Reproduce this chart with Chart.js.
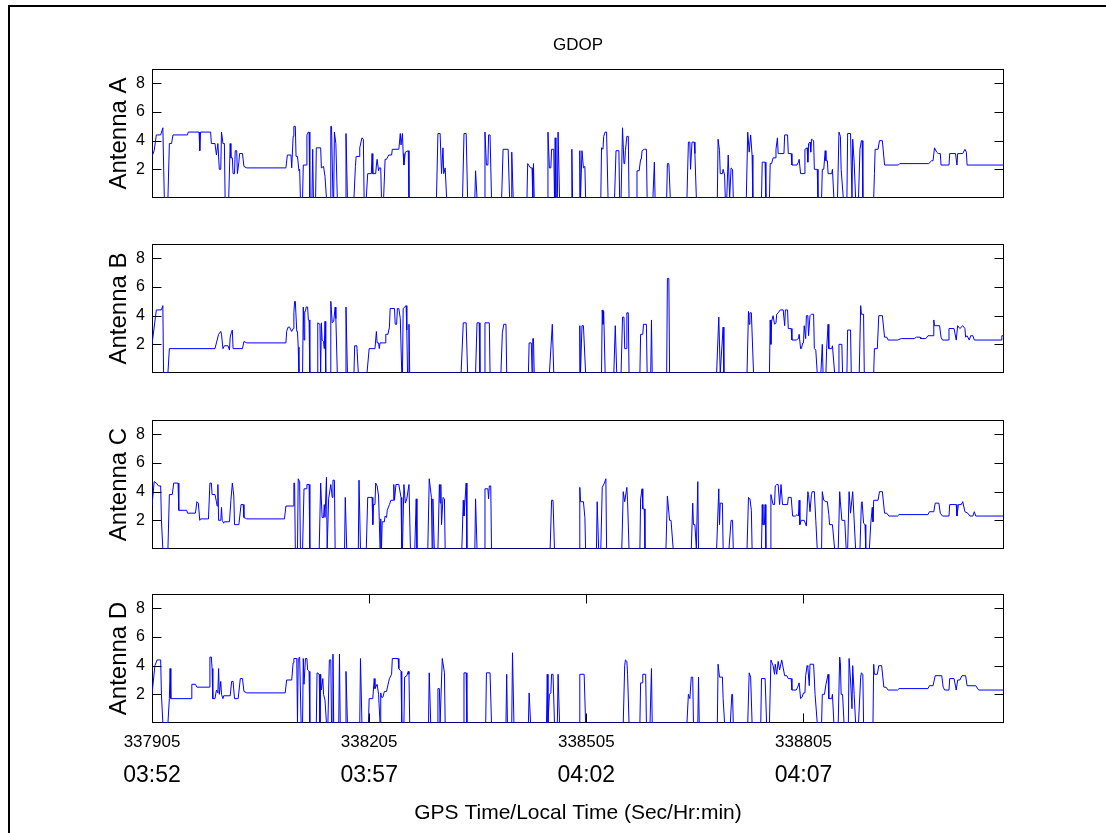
<!DOCTYPE html>
<html>
<head>
<meta charset="utf-8">
<script src="https://cdn.jsdelivr.net/npm/chart.js@4.4.1/dist/chart.umd.min.js"></script>
<style>
  html, body { margin: 0; padding: 0; background: #fff; }
  #fig { position: relative; width: 1106px; height: 833px; overflow: hidden; background: #fff; }
  #frame { position: absolute; left: 8px; top: 5px; width: 1200px; height: 900px;
           border-left: 2px solid #000; border-top: 2px solid #000; }
  canvas { position: absolute; left: 0; }
</style>
</head>
<body>
<div id="fig">
  <div id="frame"></div>
  <canvas id="antA" width="1106" height="218" style="top:0px"></canvas>
  <canvas id="antB" width="1106" height="169" style="top:224px"></canvas>
  <canvas id="antC" width="1106" height="169" style="top:400px"></canvas>
  <canvas id="antD" width="1106" height="259" style="top:574px"></canvas>
</div>
<script>
// GPS seconds of week at the left edge of the plots
var T0 = 337905;
var T_END = 339082;
var xTicks = [337905, 338205, 338505, 338805];
var localTimes = ['03:52', '03:57', '04:02', '04:07'];
var yTicks = [2, 4, 6, 8];
var antennaNames = ['Antenna A', 'Antenna B', 'Antenna C', 'Antenna D'];
var chartTitle = 'GDOP';
var xTitle = 'GPS Time/Local Time (Sec/Hr:min)';

// [seconds after T0, GDOP]  (0 = no solution)
var gdopA = [[0,2.9],[3,3.3],[6,4.4],[12,4.4],[15,4.9],[17,0],[22,0],[24,3.8],[27,3.8],[29,4.4],[49,4.4],[50,4.6],[65,4.6],[66,3.3],[67,4.6],[81,4.6],[82,3.8],[87,3.8],[89,3.0],[91,3.8],[93,2.0],[95,2.0],[96,4.6],[98,3.8],[100,3.8],[101,0],[106,0],[108,3.8],[109,2.8],[111,2.8],[112,1.7],[114,1.7],[115,3.3],[117,3.3],[118,1.7],[120,2.5],[121,3.1],[125,3.1],[127,2.2],[131,2.1],[185,2.1],[187,3.0],[192,3.0],[193,2.1],[195,4.3],[196,5.0],[198,5.0],[199,2.9],[201,2.9],[203,1.9],[204,2.0],[205,0],[208,0],[209,2.3],[213,2.3],[214,4.4],[216,4.6],[217,4.6],[218,0],[221,0],[222,3.4],[223,0],[226,0],[227,3.5],[233,3.5],[234,2.1],[237,2.2],[239,1.5],[241,0],[246,0],[247,5.0],[248,5.0],[250,0],[251,0],[252,4.6],[254,3.8],[256,0],[267,0],[268,4.5],[270,0],[279,0],[281,2.2],[282,2.9],[286,2.9],[287,3.5],[290,4.2],[292,4.1],[293,0],[296,0],[298,1.7],[303,1.7],[304,3.1],[305,1.7],[309,1.7],[310,2.3],[311,2.7],[313,1.9],[314,2.1],[316,2.1],[317,0],[320,0],[322,2.7],[324,2.7],[327,3.0],[331,3.0],[332,3.4],[341,3.4],[343,4.5],[344,3.7],[346,4.5],[347,3.1],[348,2.3],[350,3.2],[354,3.3],[355,0],[393,0],[395,4.5],[398,4.5],[400,1.7],[402,3.5],[403,1.7],[405,2.1],[407,0],[429,0],[431,4.5],[434,4.5],[436,0],[446,0],[447,1.9],[449,0],[459,0],[460,4.6],[462,2.3],[464,2.3],[465,4.4],[467,4.4],[469,0],[483,0],[485,3.4],[492,3.4],[494,0],[496,0],[497,3.2],[499,0],[518,0],[519,2.4],[523,2.1],[525,2.1],[526,0],[527,2.4],[528,0],[546,0],[547,4.6],[549,2.1],[551,2.1],[552,3.4],[555,3.4],[556,0],[557,4.2],[558,0],[560,0],[561,4.6],[563,0],[579,0],[580,3.4],[581,0],[590,0],[591,3.3],[592,0],[594,3.3],[596,2.1],[598,2.2],[599,0],[620,0],[621,3.5],[623,3.4],[624,4.3],[626,4.6],[628,4.6],[630,0],[639,0],[641,3.3],[645,3.3],[646,0],[648,0],[650,4.9],[652,2.4],[653,2.4],[654,3.3],[656,4.3],[658,4.3],[659,0],[669,0],[670,1.9],[673,1.9],[675,2.7],[676,2.7],[677,3.3],[680,3.4],[683,3.4],[684,0],[692,0],[694,2.5],[695,0],[711,0],[712,2.4],[714,2.4],[716,0],[739,0],[741,3.9],[743,3.9],[744,2.0],[746,3.9],[749,3.9],[750,3.1],[752,0],[781,0],[782,4.1],[784,3.3],[785,1.7],[788,1.7],[789,2.0],[791,1.6],[792,0],[794,0],[796,3.0],[798,0],[800,2.1],[802,2.0],[803,0],[821,0],[823,4.6],[825,3.2],[827,4.4],[829,3.0],[830,0],[842,0],[843,2.5],[847,2.5],[848,0],[853,0],[854,2.4],[856,2.4],[858,2.8],[861,2.8],[862,3.4],[864,4.2],[865,3.1],[873,3.1],[874,4.4],[878,4.4],[879,3.1],[883,3.1],[884,2.3],[891,2.3],[893,2.5],[894,2.7],[896,1.7],[901,1.7],[902,3.4],[905,3.5],[906,2.5],[907,3.8],[909,3.9],[910,3.2],[911,4.1],[914,4.0],[915,2.0],[919,2.0],[920,0],[925,0],[926,2.0],[928,2.0],[930,3.3],[931,2.6],[933,2.6],[934,1.7],[939,1.7],[940,2.0],[942,0],[947,0],[949,4.6],[951,4.3],[952,2.0],[953,2.0],[955,0],[960,0],[961,4.5],[965,4.5],[967,0],[968,4.1],[970,2.5],[972,0],[976,0],[978,3.4],[980,4.0],[981,4.0],[982,0],[997,0],[998,1.7],[999,3.4],[1003,3.4],[1005,4.0],[1009,4.0],[1012,2.3],[1031,2.3],[1033,2.4],[1073,2.4],[1077,2.6],[1079,2.6],[1081,3.5],[1084,3.2],[1086,3.1],[1089,3.1],[1090,2.3],[1101,2.3],[1102,3.1],[1110,3.1],[1112,2.3],[1113,3.1],[1120,3.1],[1123,3.4],[1125,3.2],[1126,2.3],[1177,2.3]];

var gdopB = [[0,2.0],[6,4.4],[13,4.4],[15,4.7],[16,0],[22,0],[24,1.7],[87,1.7],[89,2.1],[92,2.7],[95,2.9],[96,2.7],[98,1.7],[100,1.9],[105,1.9],[107,1.6],[108,2.5],[110,2.9],[111,3.0],[112,1.7],[125,1.7],[127,2.2],[131,2.1],[185,2.1],[186,2.9],[188,3.2],[190,3.2],[193,2.9],[195,3.1],[196,4.2],[197,5.0],[198,5.0],[200,2.9],[201,2.9],[202,1.8],[203,0],[208,0],[209,4.6],[210,2.3],[211,4.3],[212,4.3],[213,4.6],[215,4.6],[216,3.7],[217,3.7],[218,0],[228,0],[229,3.5],[232,3.4],[233,0],[234,3.5],[235,2.3],[237,2.2],[238,1.7],[239,3.6],[240,0],[246,0],[247,5.0],[249,3.5],[251,3.6],[253,4.6],[254,3.8],[256,0],[267,0],[268,4.6],[270,0],[279,0],[280,1.9],[283,1.9],[285,0],[297,0],[300,1.7],[308,1.7],[310,2.9],[311,2.1],[313,2.1],[314,1.7],[315,2.1],[322,2.1],[323,2.7],[326,2.7],[328,3.2],[329,4.5],[335,4.5],[336,3.4],[338,3.4],[339,4.5],[341,4.5],[343,3.8],[345,0],[346,0],[347,4.5],[351,4.7],[352,3.0],[353,0],[354,0],[355,3.4],[356,0],[427,0],[430,3.5],[434,3.5],[436,0],[447,0],[449,3.5],[452,3.5],[453,0],[459,0],[460,3.5],[466,3.5],[467,0],[482,0],[484,2.8],[486,3.4],[489,3.4],[490,0],[520,0],[521,2.1],[524,2.1],[525,0],[526,2.4],[527,2.4],[528,0],[549,0],[553,3.4],[555,0],[590,0],[591,3.3],[592,0],[594,3.3],[596,3.3],[599,0],[621,0],[622,4.4],[623,3.4],[624,4.3],[626,0],[638,0],[640,3.3],[642,0],[648,0],[650,3.9],[652,3.9],[653,1.7],[655,1.7],[656,4.2],[658,4.2],[659,0],[674,0],[675,2.7],[678,2.7],[679,3.4],[683,3.4],[684,0],[689,0],[690,3.7],[691,0],[711,0],[712,6.6],[714,6.6],[715,0],[780,0],[783,3.9],[785,0],[786,0],[789,3.2],[790,0],[822,0],[824,4.3],[825,3.4],[826,4.2],[828,4.2],[831,0],[853,0],[854,3.7],[855,2.0],[856,3.6],[858,4.0],[860,3.4],[862,3.5],[863,4.1],[865,4.2],[868,4.4],[872,4.4],[874,3.3],[875,4.4],[878,4.4],[879,3.1],[883,3.1],[884,2.3],[890,2.3],[893,2.4],[894,2.7],[895,2.7],[896,1.7],[897,1.7],[899,2.1],[900,2.1],[901,3.3],[903,2.4],[904,4.0],[906,4.0],[907,2.6],[909,4.0],[911,4.1],[914,4.1],[915,1.7],[917,1.6],[919,0],[924,0],[926,2.0],[927,0],[931,0],[932,1.7],[934,3.4],[935,1.7],[939,1.7],[940,1.9],[943,0],[948,0],[949,2.0],[953,2.0],[954,0],[960,0],[961,3.0],[965,3.0],[966,0],[977,0],[979,4.7],[980,4.1],[983,4.1],[984,0],[997,0],[998,1.7],[1002,1.7],[1004,4.0],[1009,4.0],[1012,2.5],[1015,2.5],[1017,2.3],[1030,2.3],[1035,2.4],[1053,2.4],[1056,2.5],[1061,2.5],[1062,2.4],[1069,2.4],[1072,2.6],[1079,2.6],[1080,3.7],[1081,3.3],[1088,3.3],[1090,2.5],[1092,2.3],[1100,2.3],[1101,3.1],[1108,3.1],[1111,2.3],[1113,3.3],[1116,3.1],[1120,3.3],[1123,3.1],[1124,2.5],[1126,2.6],[1129,2.3],[1131,2.6],[1134,2.6],[1136,2.3],[1173,2.3],[1174,2.6],[1177,2.6]];

var gdopC = [[0,3.0],[3,4.7],[6,4.6],[9,4.4],[12,4.4],[13,2.0],[15,0],[22,0],[24,3.8],[28,3.8],[30,4.6],[36,4.6],[37,2.7],[48,2.7],[49,2.5],[60,2.5],[62,3.3],[64,3.2],[66,2.0],[67,2.1],[78,2.1],[80,4.6],[82,4.6],[83,3.8],[87,3.8],[89,3.3],[90,3.0],[91,4.5],[92,2.0],[95,2.0],[96,2.9],[97,2.0],[99,1.8],[100,1.9],[107,1.9],[109,3.4],[111,4.6],[113,3.7],[114,1.7],[120,1.7],[123,3.1],[126,3.1],[127,2.2],[131,2.1],[183,2.1],[185,3.0],[195,3.0],[196,4.6],[197,4.6],[198,0],[201,0],[202,4.9],[204,4.7],[205,0],[208,0],[210,4.2],[213,4.2],[214,4.5],[217,4.5],[218,0],[231,0],[233,4.6],[235,2.2],[237,2.2],[238,3.1],[239,2.2],[241,5.0],[242,0],[243,0],[244,3.5],[247,4.5],[249,3.6],[250,4.8],[252,4.8],[253,0],[266,0],[267,3.6],[269,0],[285,0],[286,4.8],[288,0],[296,0],[298,3.6],[304,3.6],[305,1.7],[306,3.1],[308,3.1],[309,4.6],[311,4.4],[313,3.7],[314,2.0],[315,0],[316,2.1],[317,0],[318,1.9],[321,1.9],[322,2.3],[324,2.2],[325,2.7],[328,3.1],[330,3.4],[333,3.4],[334,4.5],[335,3.4],[337,4.5],[341,4.5],[344,3.6],[345,0],[346,0],[348,4.5],[350,3.2],[352,3.5],[355,4.5],[357,0],[363,0],[365,3.5],[366,0],[381,0],[383,4.9],[386,3.6],[387,0],[388,3.5],[390,0],[395,0],[397,4.5],[398,3.2],[399,4.5],[400,1.7],[402,3.6],[404,3.5],[405,0],[428,0],[430,3.4],[431,2.3],[434,4.6],[435,0],[446,0],[447,3.5],[449,0],[459,0],[460,4.2],[464,4.2],[465,3.5],[466,4.4],[468,4.4],[469,0],[550,0],[552,3.4],[554,3.4],[556,0],[590,0],[591,4.3],[592,3.3],[596,3.3],[598,2.2],[599,0],[614,0],[615,3.3],[617,0],[620,0],[622,4.3],[623,4.3],[625,4.6],[627,4.9],[628,0],[649,0],[651,4.0],[653,3.3],[656,4.3],[657,3.3],[659,0],[674,0],[675,3.5],[677,4.2],[678,2.8],[680,2.8],[681,0],[710,0],[712,3.7],[715,2.0],[717,2.0],[720,0],[745,0],[747,3.2],[748,1.7],[750,1.7],[752,0],[754,4.7],[755,0],[780,0],[783,4.2],[784,1.7],[785,3.2],[788,3.2],[789,0],[797,0],[800,2.0],[802,2.0],[803,0],[822,0],[824,3.6],[826,3.5],[828,2.7],[829,0],[842,0],[843,3.1],[844,1.7],[846,1.7],[847,3.1],[848,0],[854,0],[855,3.8],[858,3.1],[860,3.1],[861,4.4],[863,4.5],[865,4.5],[867,3.1],[869,4.5],[871,3.1],[878,3.1],[879,3.6],[883,3.6],[885,2.3],[889,2.3],[891,2.4],[893,2.3],[894,3.4],[895,1.7],[897,2.0],[901,2.0],[904,1.6],[906,4.0],[907,3.8],[909,2.6],[911,3.8],[912,4.0],[915,4.0],[917,2.0],[919,0],[925,0],[926,4.0],[928,3.4],[931,3.3],[933,3.3],[935,2.4],[936,1.7],[940,1.7],[943,0],[948,0],[950,4.0],[951,3.3],[953,2.0],[957,2.0],[959,0],[961,0],[963,4.0],[965,2.5],[968,4.0],[969,3.0],[972,0],[978,0],[980,3.2],[981,3.3],[983,1.8],[985,1.7],[986,0],[991,0],[993,1.8],[995,2.9],[996,1.9],[997,3.4],[1003,3.4],[1005,4.0],[1009,4.0],[1012,2.5],[1015,2.5],[1018,2.3],[1030,2.3],[1032,2.4],[1072,2.4],[1074,2.6],[1080,2.6],[1082,3.2],[1087,3.2],[1089,2.5],[1092,2.3],[1101,2.3],[1102,3.1],[1111,3.1],[1112,2.3],[1114,3.1],[1118,3.1],[1120,3.3],[1123,2.6],[1127,2.5],[1130,2.3],[1134,2.3],[1136,2.6],[1138,2.3],[1177,2.3]];

var gdopD = [[0,2.0],[4,4.0],[7,4.4],[12,4.4],[13,2.0],[15,0],[22,0],[24,1.7],[25,3.8],[26,1.7],[54,1.7],[55,2.7],[60,2.7],[62,2.5],[79,2.5],[80,4.6],[82,4.6],[83,3.8],[84,1.7],[87,1.7],[89,2.3],[91,2.1],[92,3.8],[93,2.0],[95,2.9],[96,2.0],[98,1.7],[99,1.9],[108,1.9],[110,2.9],[112,2.9],[114,1.7],[119,1.7],[122,3.1],[125,3.1],[127,2.2],[131,2.1],[184,2.1],[186,3.0],[193,3.0],[195,4.2],[196,4.5],[200,4.5],[201,0],[202,4.5],[204,4.6],[206,0],[208,0],[209,4.5],[210,2.7],[212,4.5],[214,4.5],[215,3.7],[217,3.6],[218,0],[227,0],[228,3.5],[231,3.4],[232,0],[233,3.4],[234,2.3],[236,3.1],[237,2.0],[239,1.6],[241,0],[243,0],[245,4.4],[247,4.4],[248,0],[249,0],[250,4.8],[251,0],[258,0],[259,4.8],[260,0],[267,0],[268,3.6],[270,0],[287,0],[288,4.5],[290,0],[299,0],[300,1.7],[305,1.7],[307,3.1],[308,2.4],[311,2.7],[313,2.0],[315,0],[316,2.1],[317,1.8],[319,1.8],[321,2.2],[324,2.2],[327,2.9],[328,3.1],[331,3.4],[332,4.5],[340,4.5],[341,3.8],[344,3.6],[345,0],[348,0],[349,3.2],[352,3.3],[354,3.6],[355,3.4],[356,0],[382,0],[383,3.5],[385,0],[394,0],[395,2.4],[397,2.4],[398,0],[399,0],[401,4.5],[402,4.5],[404,3.5],[405,0],[430,0],[431,3.5],[434,3.5],[435,0],[461,0],[462,3.5],[467,3.5],[469,0],[489,0],[490,3.4],[491,0],[497,0],[498,4.9],[500,0],[520,0],[521,2.1],[523,0],[545,0],[546,3.4],[547,0],[549,2.0],[551,2.1],[552,3.4],[554,3.4],[556,0],[560,0],[561,3.4],[563,0],[590,0],[591,3.4],[597,3.4],[599,0],[651,0],[653,4.0],[654,4.4],[656,4.3],[657,3.4],[659,0],[674,0],[675,2.8],[677,2.8],[678,3.4],[682,3.4],[683,0],[688,0],[690,3.8],[691,0],[739,0],[741,2.0],[743,1.7],[745,3.2],[747,3.2],[748,0],[754,0],[755,3.2],[756,0],[781,0],[782,4.1],[784,3.2],[788,3.2],[789,1.7],[790,1.7],[791,0],[799,0],[801,2.0],[802,2.0],[803,0],[823,0],[825,3.5],[827,3.2],[829,0],[841,0],[842,3.1],[847,3.1],[849,0],[853,0],[855,4.4],[858,4.0],[860,3.4],[861,4.1],[863,3.4],[865,4.3],[867,3.7],[870,4.4],[871,4.1],[874,3.3],[877,3.3],[879,3.1],[883,3.1],[884,2.3],[890,2.3],[892,2.5],[894,2.8],[896,1.7],[898,1.8],[900,2.1],[902,2.1],[903,3.3],[905,4.0],[906,3.9],[908,2.6],[909,4.1],[914,4.1],[916,2.0],[919,0],[925,0],[926,2.0],[929,2.0],[931,2.7],[934,3.4],[935,1.7],[939,1.7],[940,2.0],[942,0],[948,0],[950,4.6],[951,4.2],[952,2.0],[954,2.0],[956,0],[962,0],[963,4.5],[965,3.0],[967,1.0],[968,4.0],[970,2.0],[972,0],[976,0],[979,3.2],[980,3.5],[982,3.4],[983,0],[996,0],[997,4.1],[998,3.4],[1002,3.4],[1004,4.0],[1008,4.0],[1011,2.5],[1014,2.5],[1017,2.3],[1030,2.3],[1032,2.4],[1072,2.4],[1074,2.6],[1079,2.6],[1082,3.3],[1091,3.3],[1093,2.5],[1095,2.3],[1101,2.3],[1102,3.1],[1108,3.1],[1111,2.3],[1113,3.0],[1116,3.0],[1119,3.3],[1124,3.3],[1126,2.6],[1138,2.6],[1142,2.3],[1177,2.3]];

var FONT = "'Liberation Sans', Arial, Helvetica, sans-serif";

// MATLAB-like box with inward ticks; title over the first panel, local time row under the last
var matlabAxes = {
    id: 'matlabAxes',
    beforeDatasetsDraw: function (chart, args, opts) {
        var a = chart.chartArea, ctx = chart.ctx;
        var xs = chart.scales.x, ys = chart.scales.y;
        var L = Math.round(a.left) + 0.5, R = Math.round(a.right) - 0.5;
        var T = Math.round(a.top) + 0.5, B = Math.round(a.bottom) - 0.5;
        ctx.save();
        ctx.strokeStyle = '#000';
        ctx.lineWidth = 1;
        ctx.strokeRect(L, T, R - L, B - T);
        ctx.beginPath();
        yTicks.forEach(function (v) {
            var py = Math.round(ys.getPixelForValue(v)) + 0.5;
            ctx.moveTo(L, py); ctx.lineTo(L + 9, py);
            ctx.moveTo(R, py); ctx.lineTo(R - 9, py);
        });
        if (opts.xTicks) {
            xTicks.forEach(function (v) {
                var px = Math.round(xs.getPixelForValue(v)) + 0.5;
                ctx.moveTo(px, T); ctx.lineTo(px, T + 9);
                ctx.moveTo(px, B); ctx.lineTo(px, B - 9);
            });
        }
        ctx.stroke();
        ctx.restore();
    },
    afterDraw: function (chart, args, opts) {
        var ctx = chart.ctx, xs = chart.scales.x, a = chart.chartArea;
        ctx.save();
        ctx.fillStyle = '#000';
        ctx.textAlign = 'center';
        ctx.textBaseline = 'middle';
        if (opts.title) {
            ctx.font = '17px ' + FONT;
            ctx.fillText(opts.title, (a.left + a.right) / 2, a.top - 24);
        }
        if (opts.localTimes) {
            ctx.font = '23px ' + FONT;
            xTicks.forEach(function (v, i) {
                ctx.fillText(localTimes[i], xs.getPixelForValue(v), a.bottom + 53);
            });
        }
        ctx.restore();
    }
};

function makePanel(canvasId, name, series, isFirst, isLast) {
    var points = series.map(function (p) { return { x: T0 + p[0], y: p[1] }; });

    new Chart(document.getElementById(canvasId), {
        type: 'line',
        data: {
            datasets: [{
                label: name,
                data: points,
                borderColor: '#0000ff',
                borderWidth: 1,
                pointRadius: 0,
                fill: false,
                tension: 0
            }]
        },
        options: {
            responsive: false,
            animation: false,
            devicePixelRatio: 1,
            events: [],
            layout: { padding: { left: 100, right: 102, top: isFirst ? 69 : 20, bottom: isLast ? 0 : 20 } },
            plugins: {
                legend: { display: false },
                tooltip: { enabled: false },
                matlabAxes: {
                    xTicks: isLast,
                    localTimes: isLast,
                    title: isFirst ? chartTitle : null
                }
            },
            scales: {
                x: {
                    type: 'linear',
                    min: T0,
                    max: T_END,
                    display: isLast,
                    afterBuildTicks: function (scale) {
                        scale.ticks = xTicks.map(function (v) { return { value: v }; });
                    },
                    afterFit: function (scale) { if (isLast) scale.height = 110; },
                    grid: { display: false, drawTicks: false },
                    border: { display: false },
                    ticks: {
                        autoSkip: false,
                        maxRotation: 0,
                        padding: 9,
                        color: '#000',
                        font: { family: FONT, size: 17 },
                        callback: function (v) { return String(v); }
                    },
                    title: {
                        display: true,
                        text: xTitle,
                        color: '#000',
                        font: { family: FONT, size: 21 },
                        padding: { top: 0, bottom: 7 }
                    }
                },
                y: {
                    min: 0,
                    max: 9,
                    afterBuildTicks: function (scale) {
                        scale.ticks = yTicks.map(function (v) { return { value: v }; });
                    },
                    afterFit: function (scale) { scale.width = 52; },
                    grid: { display: false, drawTicks: false },
                    border: { display: false },
                    ticks: {
                        padding: 7,
                        color: '#000',
                        font: { family: FONT, size: 16 }
                    },
                    title: {
                        display: true,
                        text: name,
                        color: '#000',
                        font: { family: FONT, size: 24 },
                        padding: { top: 5, bottom: 0 }
                    }
                }
            }
        },
        plugins: [matlabAxes]
    });
}

makePanel('antA', antennaNames[0], gdopA, true, false);
makePanel('antB', antennaNames[1], gdopB, false, false);
makePanel('antC', antennaNames[2], gdopC, false, false);
makePanel('antD', antennaNames[3], gdopD, false, true);
</script>
</body>
</html>
